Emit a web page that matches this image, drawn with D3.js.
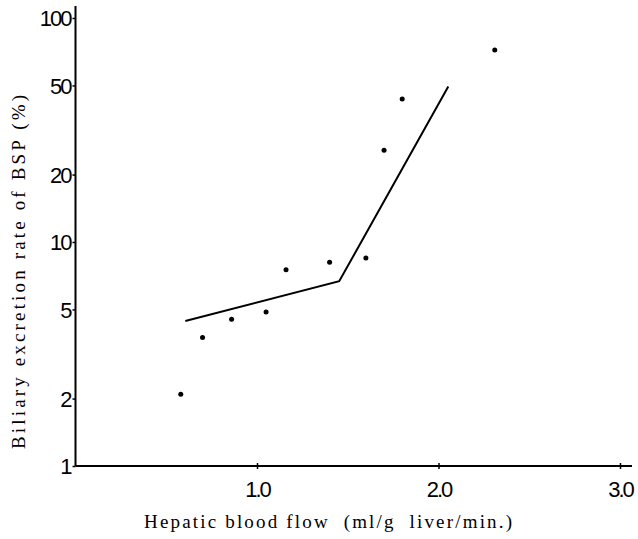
<!DOCTYPE html>
<html>
<head>
<meta charset="utf-8">
<script src="https://cdn.jsdelivr.net/npm/d3@7"></script>
<style>
body { margin:0; background:#fff; }
</style>
</head>
<body>
<div id="chart"></div>
<script>
// Chart size
const W = 638, H = 539;
const margin = {top:6, right:6, bottom:73, left:75.5};
const width = W - margin.left - margin.right;
const height = H - margin.top - margin.bottom;

// Measured points
const flow = [0.58, 0.70, 0.86, 1.05, 1.16, 1.40, 1.60, 1.70, 1.80, 2.31];
const excretion = [2.09, 3.75, 4.52, 4.87, 7.52, 8.12, 8.48, 25.7, 43.5, 72];

// Fitted broken line
const lineFlow = [0.605, 1.453, 2.054];
const lineExcretion = [4.44, 6.68, 49.4];

// Ticks
const xTicks = [1.0, 2.0, 3.0];
const yTicks = [1, 2, 5, 10, 20, 50, 100];

const svg = d3.select("#chart")
.append("svg")
.attr("width", W)
.attr("height", H)
.append("g")
.attr("transform", `translate(${margin.left},${margin.top})`);

// X scale (0 .. 3.07)
const x = d3.scaleLinear()
.domain([0, width / 181.5])
.range([0, width]);

// Y scale, log (224 px per decade)
const y = d3.scaleLog()
.domain([1, Math.pow(10, height / 224)])
.range([height, 0]);

// X Axis
const xAxis = svg.append("g")
.attr("transform", `translate(0,${height})`)
.call(d3.axisBottom(x).tickValues(xTicks).tickFormat(d3.format(".1f")).tickSize(3).tickPadding(12));
xAxis.select(".domain").attr("stroke-width", 2).attr("d", `M0,0H${width}`);
xAxis.selectAll(".tick line").attr("y1", -3).attr("stroke-width", 1.5);
xAxis.selectAll("text")
.attr("font-family", "Liberation Sans, Arial, sans-serif")
.attr("font-size", 22)
.attr("letter-spacing", -2)
.attr("fill", "#000");

// Y Axis
const yAxis = svg.append("g")
.call(d3.axisLeft(y).tickValues(yTicks).tickFormat(d3.format("d")).tickSize(3).tickPadding(2));
yAxis.select(".domain").attr("stroke-width", 2).attr("d", `M0,${height}V0`);
yAxis.selectAll(".tick line").attr("stroke-width", 1.5);
yAxis.selectAll("text")
.attr("font-family", "Liberation Sans, Arial, sans-serif")
.attr("font-size", 22)
.attr("letter-spacing", -2)
.attr("dy", "0.36em")
.attr("fill", "#000");

// Line
const line = d3.line()
.x(d => x(d[0]))
.y(d => y(d[1]));

svg.append("path")
.datum(lineFlow.map((f, i) => [f, lineExcretion[i]]))
.attr("fill", "none")
.attr("stroke", "#000")
.attr("stroke-width", 2)
.attr("d", line);

// Points
svg.selectAll(".dot")
.data(flow.map((f, i) => [f, excretion[i]]))
.enter()
.append("circle")
.attr("class", "dot")
.attr("cx", d => x(d[0]))
.attr("cy", d => y(d[1]))
.attr("r", 2.5)
.attr("fill", "#000");

// Axis titles
svg.append("text")
.attr("x", 328 - margin.left)
.attr("y", 528 - margin.top)
.attr("text-anchor", "middle")
.attr("font-family", "Liberation Serif, Times New Roman, serif")
.attr("font-size", 19)
.style("white-space", "pre")
.attr("textLength", 368)
.attr("lengthAdjust", "spacing")
.text("Hepatic blood flow  (ml/g  liver/min.)");

svg.append("text")
.attr("transform", `translate(${25 - margin.left},${272 - margin.top}) rotate(-90)`)
.attr("text-anchor", "middle")
.attr("font-family", "Liberation Serif, Times New Roman, serif")
.attr("font-size", 19)
.attr("textLength", 354)
.attr("lengthAdjust", "spacing")
.text("Biliary excretion rate of BSP (%)");
</script>
</body>
</html>
